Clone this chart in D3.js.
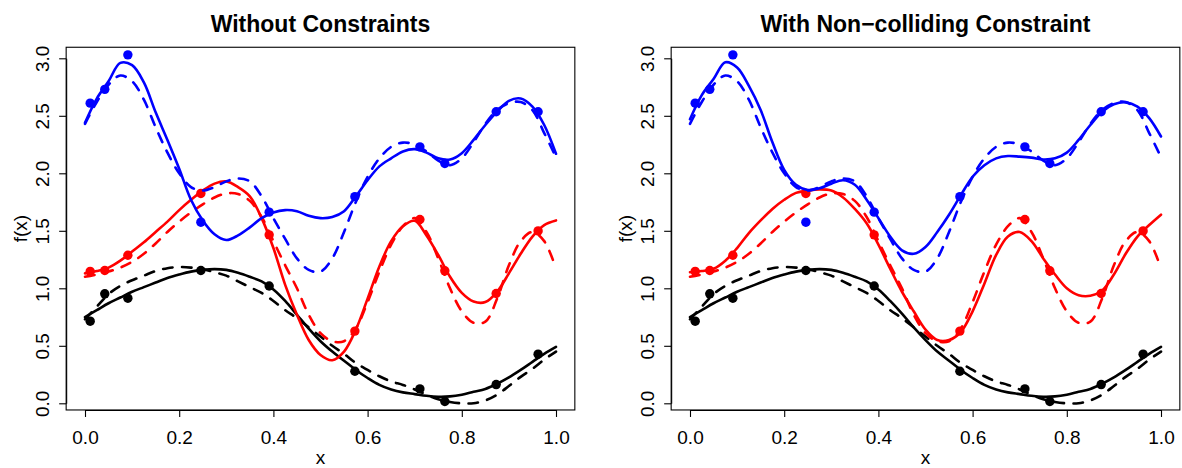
<!DOCTYPE html>
<html><head><meta charset="utf-8">
<script src="https://cdn.jsdelivr.net/npm/d3@7"></script>
<style>
body{margin:0;background:#fff}
svg{display:block}
text{font-family:"Liberation Sans",Arial,Helvetica,sans-serif;fill:#000}
</style>
</head><body>
<svg id="chart" width="1182" height="468"></svg>
<script>
// ---- data ----
const titles = ["Without Constraints", "With Non\u2212colliding Constraint"];
const xTicks = [0, 0.2, 0.4, 0.6, 0.8, 1.0];
const yTicks = [0, 0.5, 1.0, 1.5, 2.0, 2.5, 3.0];

// observed points (same in both panels)
const ptX     = [0.011, 0.042, 0.091, 0.246, 0.391, 0.573, 0.711, 0.764, 0.873, 0.962];
const ptBlue  = [2.61, 2.73, 3.03, 1.575, 1.662, 1.797, 2.23, 2.085, 2.535, 2.535];
const ptRed   = [1.147, 1.155, 1.287, 1.825, 1.465, 0.628, 1.598, 1.152, 0.955, 1.499];
const ptBlack = [0.714, 0.952, 0.914, 1.155, 1.02, 0.279, 0.125, 0.016, 0.163, 0.427];

// curve sample grid
const xGrid = [0,0.025,0.05,0.075,0.1,0.125,0.15,0.175,0.2,0.225,0.25,0.275,0.3,0.325,0.35,0.375,0.4,0.425,0.45,0.475,0.5,0.525,0.55,0.575,0.6,0.625,0.65,0.675,0.7,0.725,0.75,0.775,0.8,0.825,0.85,0.875,0.9,0.925,0.95,0.975,1];

// true functions (dashed)
const blueTrue  = [2.43,2.62,2.77,2.85,2.80,2.64,2.40,2.18,2.00,1.88,1.85,1.88,1.93,1.955,1.93,1.80,1.61,1.43,1.26,1.16,1.145,1.26,1.49,1.75,1.97,2.13,2.23,2.267,2.25,2.19,2.11,2.07,2.13,2.27,2.43,2.55,2.61,2.62,2.55,2.35,2.14];
const redTrue   = [1.10,1.12,1.145,1.18,1.23,1.30,1.39,1.49,1.58,1.66,1.73,1.79,1.825,1.82,1.76,1.62,1.41,1.20,1.00,0.77,0.61,0.54,0.54,0.65,0.88,1.145,1.38,1.54,1.61,1.49,1.26,1.00,0.80,0.70,0.71,0.91,1.20,1.41,1.49,1.41,1.17];
const blackTrue = [0.73,0.84,0.95,1.02,1.07,1.11,1.15,1.175,1.185,1.18,1.165,1.14,1.11,1.06,1.01,0.96,0.89,0.81,0.74,0.66,0.58,0.50,0.43,0.35,0.29,0.235,0.19,0.16,0.12,0.075,0.035,0.012,0.0,0.0,0.025,0.075,0.15,0.23,0.30,0.38,0.45];

// fitted curves, panel 1 (without constraints)
const blueFit1  = [2.44,2.65,2.80,2.96,2.94,2.79,2.53,2.29,2.04,1.77,1.59,1.47,1.42,1.46,1.53,1.61,1.66,1.68,1.67,1.63,1.61,1.62,1.67,1.80,1.94,2.06,2.13,2.19,2.21,2.18,2.13,2.12,2.175,2.29,2.42,2.536,2.63,2.65,2.58,2.42,2.17];
const redFit1   = [1.13,1.15,1.18,1.24,1.32,1.40,1.49,1.58,1.68,1.77,1.85,1.91,1.93,1.88,1.80,1.61,1.35,1.03,0.77,0.55,0.42,0.375,0.45,0.64,0.91,1.19,1.41,1.54,1.587,1.46,1.29,1.10,0.96,0.885,0.88,0.97,1.13,1.30,1.45,1.55,1.59];
const blackFit1 = [0.75,0.81,0.87,0.92,0.97,1.01,1.05,1.09,1.12,1.145,1.16,1.167,1.16,1.135,1.10,1.06,0.99,0.89,0.77,0.65,0.54,0.45,0.37,0.29,0.22,0.16,0.12,0.095,0.08,0.065,0.057,0.06,0.075,0.10,0.125,0.17,0.225,0.29,0.36,0.43,0.49];

// fitted curves, panel 2 (with non-colliding constraint)
const blueFit2  = [2.47,2.68,2.82,2.965,2.92,2.76,2.55,2.27,2.03,1.90,1.855,1.87,1.91,1.94,1.90,1.77,1.61,1.45,1.33,1.30,1.36,1.49,1.64,1.81,1.97,2.07,2.13,2.15,2.145,2.136,2.12,2.13,2.18,2.29,2.42,2.536,2.60,2.617,2.58,2.48,2.32];
const redFit2   = [1.14,1.15,1.17,1.24,1.35,1.48,1.59,1.69,1.77,1.83,1.85,1.86,1.85,1.79,1.69,1.565,1.38,1.17,0.97,0.80,0.64,0.55,0.55,0.62,0.80,1.04,1.29,1.45,1.49,1.41,1.26,1.12,1.00,0.94,0.935,0.98,1.12,1.30,1.45,1.55,1.64];
const blackFit2 = [0.75,0.81,0.87,0.92,0.97,1.01,1.05,1.09,1.12,1.145,1.16,1.167,1.16,1.135,1.10,1.06,0.99,0.89,0.78,0.66,0.55,0.45,0.37,0.29,0.22,0.16,0.12,0.095,0.08,0.065,0.057,0.06,0.075,0.10,0.125,0.17,0.225,0.29,0.36,0.43,0.49];

// ---- drawing ----
const svg = d3.select("#chart");
const panelLeft = [85, 690];
const panelFits = [
  {black: blackFit1, red: redFit1, blue: blueFit1},
  {black: blackFit2, red: redFit2, blue: blueFit2}
];
const trues = {black: blackTrue, red: redTrue, blue: blueTrue};
const pts = {black: ptBlack, red: ptRed, blue: ptBlue};
const colors = {black: "#000000", red: "#FF0000", blue: "#0000FF"};
const order = ["black", "red", "blue"];

panelLeft.forEach((x0, p) => {
  const xs = d3.scaleLinear().domain([0, 1]).range([x0, x0 + 471]);
  const ys = d3.scaleLinear().domain([0, 3]).range([403.3, 58.3]);
  const g = svg.append("g");
  const left = xs(-0.04), right = xs(1.04), top = ys(3.096), bottom = ys(-0.058);

  // title
  g.append("text").attr("x", (left + right) / 2).attr("y", 32)
    .attr("text-anchor", "middle").attr("font-size", 23).attr("font-weight", "bold")
    .text(titles[p]);

  // points
  order.forEach(c => {
    g.append("g").selectAll("circle").data(ptX.map((x, i) => [x, pts[c][i]]))
      .join("circle").attr("cx", d => xs(d[0])).attr("cy", d => ys(d[1]))
      .attr("r", 4.7).attr("fill", colors[c]);
  });

  const line = d3.line().x(d => xs(d[0])).y(d => ys(d[1]))
    .curve(d3.curveCatmullRom.alpha(0.5));

  order.forEach(c => {
    g.append("path").datum(xGrid.map((x, i) => [x, trues[c][i]]))
      .attr("d", line).attr("fill", "none").attr("stroke", colors[c])
      .attr("stroke-width", 2.6).attr("stroke-dasharray", "9.5,9.5")
      .attr("stroke-linecap", "round").attr("stroke-linejoin", "round");
    g.append("path").datum(xGrid.map((x, i) => [x, panelFits[p][c][i]]))
      .attr("d", line).attr("fill", "none").attr("stroke", colors[c])
      .attr("stroke-width", 2.6)
      .attr("stroke-linecap", "round").attr("stroke-linejoin", "round");
  });

  // box
  g.append("rect").attr("x", left).attr("y", top)
    .attr("width", right - left).attr("height", bottom - top)
    .attr("fill", "none").attr("stroke", "#000").attr("stroke-width", 1.1);

  // x axis
  const ax = g.append("g").attr("transform", `translate(0,${bottom})`)
    .call(d3.axisBottom(xs).tickValues(xTicks).tickFormat(d3.format(".1f"))
      .tickSize(7).tickSizeOuter(0).tickPadding(14));
  ax.selectAll("path,line").attr("stroke", "#000").attr("stroke-width", 1.1);
  ax.selectAll("text").attr("font-size", 19).attr("fill", "#000")
    .attr("font-family", '"Liberation Sans",Arial,Helvetica,sans-serif');

  // y axis
  const ay = g.append("g").attr("transform", `translate(${left},0)`)
    .call(d3.axisLeft(ys).tickValues(yTicks).tickFormat(d3.format(".1f"))
      .tickSize(7).tickSizeOuter(0));
  ay.selectAll("path,line").attr("stroke", "#000").attr("stroke-width", 1.1);
  ay.selectAll("text").attr("font-size", 19).attr("fill", "#000")
    .attr("font-family", '"Liberation Sans",Arial,Helvetica,sans-serif')
    .attr("transform", "rotate(-90)").attr("x", 0).attr("y", -24.2)
    .attr("dy", "0.35em").attr("text-anchor", "middle");

  // axis titles
  g.append("text").attr("x", (left + right) / 2).attr("y", 464)
    .attr("text-anchor", "middle").attr("font-size", 19).text("x");
  g.append("text")
    .attr("transform", `translate(${left - 45.5},${(top + bottom) / 2}) rotate(-90)`)
    .attr("text-anchor", "middle").attr("dy", "0.35em").attr("font-size", 19).text("f(x)");
});
</script>
</body></html>
